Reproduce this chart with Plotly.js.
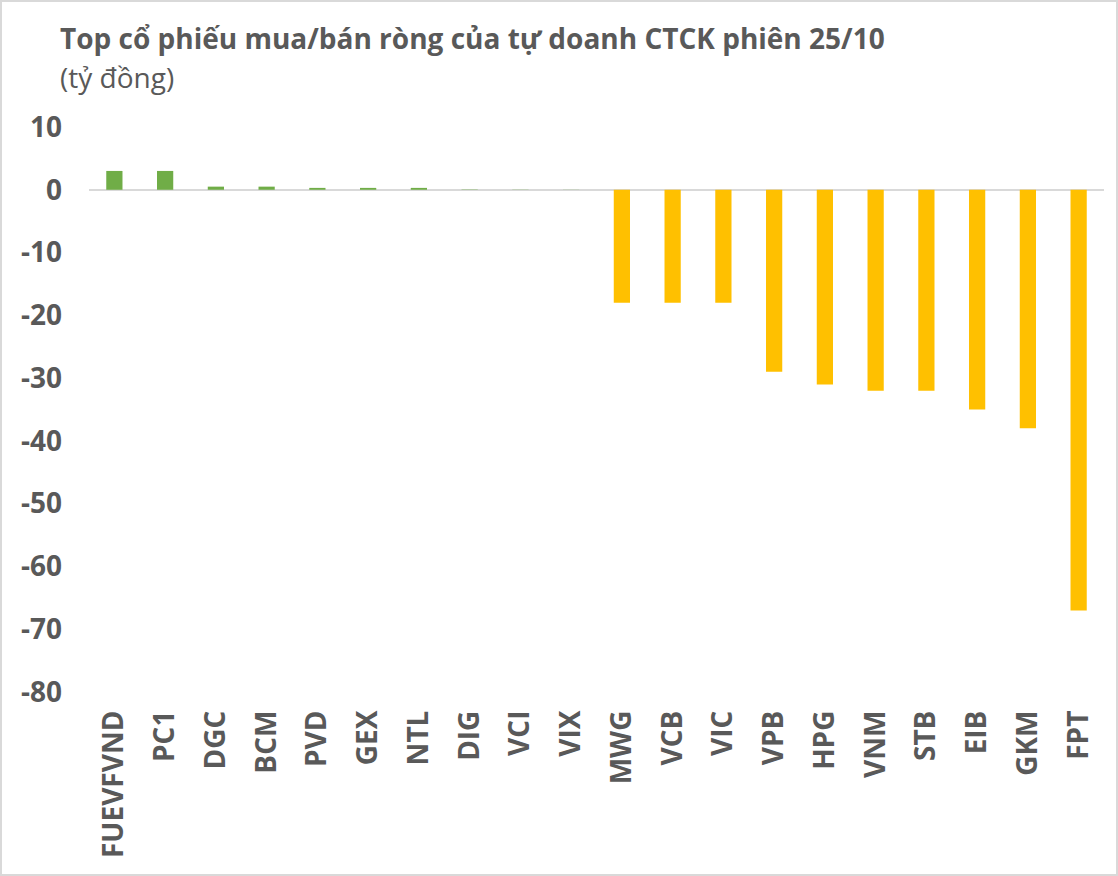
<!DOCTYPE html>
<html><head><meta charset="utf-8">
<script src="https://cdn.plot.ly/plotly-3.0.1.min.js"></script>
<style>html,body{margin:0;padding:0;background:#fff}#wrap{position:relative;width:1118px;height:876px}#frame{position:absolute;left:0;top:0;width:1118px;height:876px;border:2px solid #d9d9d9;box-sizing:border-box;pointer-events:none}</style>
</head><body>
<div id="wrap"><div id="chart" style="width:1118px;height:876px"></div><div id="frame"></div></div>
<script>
const categories = ["FUEVFVND","PC1","DGC","BCM","PVD","GEX","NTL","DIG","VCI","VIX","MWG","VCB","VIC","VPB","HPG","VNM","STB","EIB","GKM","FPT"];
const values = [3.0,3.0,0.5,0.5,0.3,0.3,0.3,0.05,0.03,0.02,-18,-18,-18,-29,-31,-32,-32,-35,-38,-67];
const titleText = "Top cổ phiếu mua/bán ròng của tự doanh CTCK phiên 25/10";
const subtitleText = "(tỷ đồng)";
const yTicks = [10,0,-10,-20,-30,-40,-50,-60,-70,-80];
const yTickText = ["10","0","-10","-20","-30","-40","-50","-60","-70","-80"];

const colors = values.map(v => v >= 0 ? "#70AD47" : "#FFC000");
const fontFam = "'Open Sans', sans-serif";

Plotly.newPlot("chart", [{
  type: "bar", x: categories, y: values,
  marker: {color: colors, line: {width: 0}},
  hoverinfo: "x+y"
}], {
  width: 1118, height: 876,
  margin: {l: 89, r: 14, t: 127, b: 184},
  paper_bgcolor: "#fff", plot_bgcolor: "#fff",
  bargap: 0.68,
  showlegend: false,
  xaxis: {
    type: "category", tickangle: -90, showgrid: false, showline: false, zeroline: false,
    ticks: "", ticklabelstandoff: 12,
    tickfont: {family: fontFam, size: 28, color: "#595959", weight: "bold"}
  },
  yaxis: {
    range: [-80, 10], tickvals: yTicks, ticktext: yTickText, showgrid: false, showline: false,
    zeroline: true, zerolinecolor: "#d9d9d9", zerolinewidth: 2,
    ticks: "", ticklabelstandoff: 26,
    tickfont: {family: fontFam, size: 28, color: "#595959", weight: "bold"}
  },
  annotations: [
    {text: "<b>" + titleText + "</b>", xref: "paper", yref: "paper", x: -31/1015, y: 1 + 89/565, xanchor: "left", yanchor: "middle", showarrow: false,
     font: {family: fontFam, size: 28, color: "#595959"}},
    {text: subtitleText, xref: "paper", yref: "paper", x: -31/1015, y: 1 + 50/565, xanchor: "left", yanchor: "middle", showarrow: false,
     font: {family: fontFam, size: 28, color: "#595959"}}
  ]
}, {displayModeBar: false, staticPlot: true});
</script>
</body></html>
